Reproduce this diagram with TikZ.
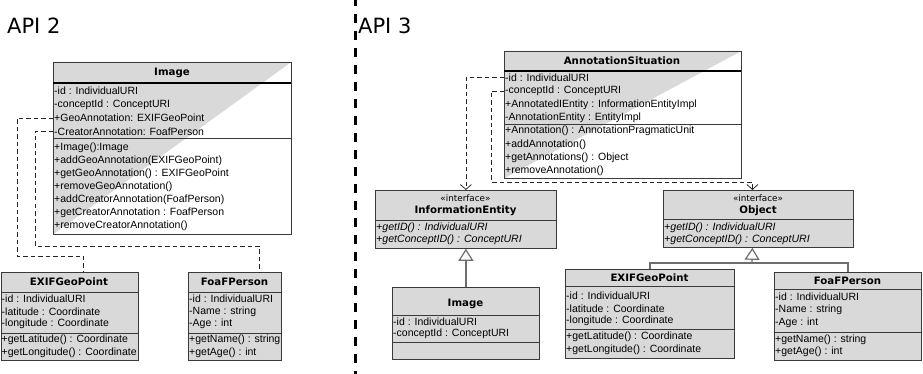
\documentclass[tikz,border=0pt]{standalone}
\usepackage{fontspec}
\setmainfont{Liberation Sans}
\newfontfamily\dvs{DejaVu Sans}
\usetikzlibrary{arrows.meta}
\definecolor{fillg}{HTML}{D9D9D9}
\definecolor{edgec}{HTML}{3A3A3A}
\definecolor{inhg}{HTML}{6E6E6E}
\tikzset{
  clsbox/.style={draw=edgec, line width=0.8pt, fill=fillg, inner sep=0pt, anchor=north west},
  splitbox/.style={draw=none, inner sep=0pt, anchor=north west},
  ttl/.style={font=\dvs\bfseries\fontsize{10.2}{12}\selectfont, inner sep=0pt},
  ster/.style={font=\dvs\fontsize{8.8}{10}\selectfont, inner sep=0pt},
  mem/.style={font=\fontsize{10.5}{12}\selectfont, anchor=west, inner sep=0pt},
  imem/.style={font=\itshape\fontsize{10.6}{12}\selectfont, anchor=west, inner sep=0pt},
  sepl/.style={draw=edgec, line width=0.8pt},
  tsep/.style={draw=black, line width=1.7pt},
  deplink/.style={draw=black!85, line width=0.75pt, dash pattern=on 4.5pt off 3pt},
  deparrow/.style={deplink, -{Straight Barb[length=5pt,width=11pt]}},
  inh/.style={draw=inhg, line width=1.2pt, -{Triangle[open, length=12pt, width=15pt, fill=white]}},
  inhline/.style={draw=inhg, line width=1.2pt},
  divider/.style={draw=black, line width=3pt, dash pattern=on 9pt off 8pt},
  apil/.style={font=\dvs\fontsize{21}{25}\selectfont, anchor=base west, inner sep=0pt}
}
\begin{document}
\begin{tikzpicture}[x=1pt, y=-1pt]
\useasboundingbox (0,0) rectangle (923,374);
\fill[white] (0,0) rectangle (923,374);

% labels and divider
\node[apil] (api2) at (7,34) {API 2};
\node[apil] (api3) at (358,34) {API 3};
\coordinate (dvtop) at (355,-3);
\coordinate (dvbot) at (355,376);
\draw[divider] (dvtop) -- (dvbot);

% ===== API 2 : Image =====
\node[splitbox, minimum width=238pt, minimum height=172pt] (imgA) at (53,62) {};
\fill[white] (imgA.north west) rectangle (imgA.south east);
\fill[fillg] (imgA.north west) -- (imgA.north east) -- (imgA.south west) -- cycle;
\draw[sepl] (imgA.north west) rectangle (imgA.south east);
\draw[tsep] (53,83) -- (291,83);
\draw[sepl] (53,138) -- (291,138);
\node[ttl] (imgAt) at (172,73) {Image};
\node[mem] (imgA1) at (54,91) {-id : IndividualURI};
\node[mem] (imgA2) at (54,104.5) {-conceptId : ConceptURI};
\node[mem] (imgA3) at (54,118) {+GeoAnnotation: EXIFGeoPoint};
\node[mem] (imgA4) at (54,131.5) {-CreatorAnnotation: FoafPerson};
\node[mem] (imgA5) at (54,148) {+Image():Image};
\node[mem] (imgA6) at (54,161) {+addGeoAnnotation(EXIFGeoPoint)};
\node[mem] (imgA7) at (54,174) {+getGeoAnnotation() : EXIFGeoPoint};
\node[mem] (imgA8) at (54,187) {+removeGeoAnnotation()};
\node[mem] (imgA9) at (54,200) {+addCreatorAnnotation(FoafPerson)};
\node[mem] (imgA10) at (54,213) {+getCreatorAnnotation : FoafPerson};
\node[mem] (imgA11) at (54,226) {+removeCreatorAnnotation()};

% ===== API 2 : EXIFGeoPoint =====
\node[clsbox, minimum width=137pt, minimum height=88pt] (exA) at (0.5,272) {};
\draw[sepl] (0.5,292) -- (137.5,292);
\draw[sepl] (0.5,333) -- (137.5,333);
\node[ttl] (exAt) at (69,282) {EXIFGeoPoint};
\node[mem] (exA1) at (1.5,299) {-id : IndividualURI};
\node[mem] (exA2) at (1.5,311.5) {-latitude : Coordinate};
\node[mem] (exA3) at (1.5,324) {-longitude : Coordinate};
\node[mem] (exA4) at (1.5,340) {+getLatitude() : Coordinate};
\node[mem] (exA5) at (1.5,353) {+getLongitude() : Coordinate};

% ===== API 2 : FoaFPerson =====
\node[clsbox, minimum width=93pt, minimum height=88pt] (foA) at (188,272) {};
\draw[sepl] (188,292) -- (281,292);
\draw[sepl] (188,333) -- (281,333);
\node[ttl] (foAt) at (234.5,282) {FoaFPerson};
\node[mem] (foA1) at (189,299) {-id : IndividualURI};
\node[mem] (foA2) at (189,311.5) {-Name : string};
\node[mem] (foA3) at (189,324) {-Age : int};
\node[mem] (foA4) at (189,340) {+getName() : string};
\node[mem] (foA5) at (189,353) {+getAge() : int};

% API 2 dependencies
\coordinate (bA1) at (17,256);
\coordinate (bA2) at (35,246);
\draw[deplink] (imgA.west |- imgA3) -| (bA1) -| ([xshift=14pt]exA.north);
\draw[deplink] (imgA.west |- imgA4) -| (bA2) -| ([xshift=24.5pt]foA.north);

% ===== API 3 : AnnotationSituation =====
\node[splitbox, minimum width=237pt, minimum height=127pt] (as) at (504,51) {};
\fill[white] (as.north west) rectangle (as.south east);
\fill[fillg] (as.north west) -- (as.north east) -- (as.south west) -- cycle;
\draw[sepl] (as.north west) rectangle (as.south east);
\draw[tsep] (504,71) -- (741,71);
\draw[sepl] (504,124) -- (741,124);
\node[ttl] (ast) at (622,61) {AnnotationSituation};
\node[mem] (as1) at (505,77.5) {-id : IndividualURI};
\node[mem] (as2) at (505,91) {-conceptId : ConceptURI};
\node[mem] (as3) at (505,104.5) {+AnnotatedIEntity : InformationEntityImpl};
\node[mem] (as4) at (505,118) {-AnnotationEntity : EntityImpl};
\node[mem] (as5) at (505,131) {+Annotation() : AnnotationPragmaticUnit};
\node[mem] (as6) at (505,144.5) {+addAnnotation()};
\node[mem] (as7) at (505,157.5) {+getAnnotations() : Object};
\node[mem] (as8) at (505,170.5) {+removeAnnotation()};

% ===== API 3 : InformationEntity =====
\node[clsbox, minimum width=181pt, minimum height=58pt] (ie) at (375,190) {};
\draw[sepl] (375,220) -- (556,220);
\node[ster] (ies) at (465.5,198) {«interface»};
\node[ttl] (iet) at (465.5,211) {InformationEntity};
\node[imem] (ie1) at (376,228) {+getID() : IndividualURI};
\node[imem] (ie2) at (376,240) {+getConceptID() : ConceptURI};

% ===== API 3 : Object =====
\node[clsbox, minimum width=190pt, minimum height=57pt] (ob) at (663,190) {};
\draw[sepl] (663,219) -- (853,219);
\node[ster] (obs) at (758,198) {«interface»};
\node[ttl] (obt) at (758,211) {Object};
\node[imem] (ob1) at (664,228) {+getID() : IndividualURI};
\node[imem] (ob2) at (664,240) {+getConceptID() : ConceptURI};

% ===== API 3 : Image =====
\node[clsbox, minimum width=147pt, minimum height=72pt] (imgB) at (392,287) {};
\draw[sepl] (392,315) -- (539,315);
\draw[sepl] (392,342) -- (539,342);
\node[ttl] (imgBt) at (465.5,304) {Image};
\node[mem] (imgB1) at (393,322) {-id : IndividualURI};
\node[mem] (imgB2) at (393,334) {-conceptId : ConceptURI};

% ===== API 3 : EXIFGeoPoint =====
\node[clsbox, minimum width=169pt, minimum height=89pt] (exB) at (565,269) {};
\draw[sepl] (565,286) -- (734,286);
\draw[sepl] (565,329) -- (734,329);
\node[ttl] (exBt) at (649.5,278) {EXIFGeoPoint};
\node[mem] (exB1) at (566,296) {-id : IndividualURI};
\node[mem] (exB2) at (566,308.5) {-latitude : Coordinate};
\node[mem] (exB3) at (566,321) {-longitude : Coordinate};
\node[mem] (exB4) at (566,337) {+getLatitude() : Coordinate};
\node[mem] (exB5) at (566,350) {+getLongitude() : Coordinate};

% ===== API 3 : FoaFPerson =====
\node[clsbox, minimum width=147pt, minimum height=88pt] (foB) at (774,272) {};
\draw[sepl] (774,289) -- (921,289);
\draw[sepl] (774,332) -- (921,332);
\node[ttl] (foBt) at (847.5,281) {FoaFPerson};
\node[mem] (foB1) at (775,297) {-id : IndividualURI};
\node[mem] (foB2) at (775,310) {-Name : string};
\node[mem] (foB3) at (775,323) {-Age : int};
\node[mem] (foB4) at (775,340) {+getName() : string};
\node[mem] (foB5) at (775,352) {+getAge() : int};

% API 3 dependencies
\coordinate (bB1) at (491,182);
\draw[deparrow] (as.west |- as1) -| (ie.north);
\draw[deparrow] (as.west |- as2) -| (bB1) -| ([xshift=-6pt]ob.north);

% API 3 generalizations
\draw[inh] (imgB.north) -- (ie.south);
\coordinate (jn) at (752,263);
\draw[inhline] (exB.north) |- (jn) -| (foB.north);
\draw[inh] (jn) -- ([xshift=-6pt]ob.south);
\end{tikzpicture}
\end{document}
